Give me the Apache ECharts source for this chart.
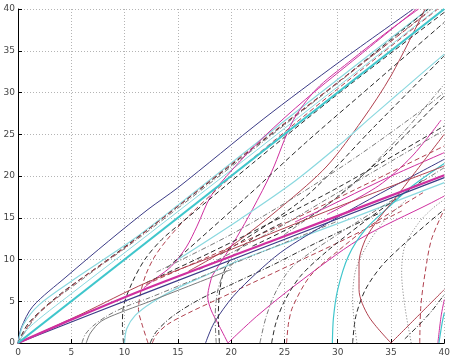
<!DOCTYPE html>
<html>
<head>
<meta charset="utf-8">
<script src="https://cdn.jsdelivr.net/npm/echarts@6/dist/echarts.min.js"></script>
<style>
html,body{margin:0;padding:0;background:#fff;}
#chart{width:453px;height:358px;}
</style>
</head>
<body>
<div id="chart"></div>
<script>
// Axis ticks
const xTicks = [0, 5, 10, 15, 20, 25, 30, 35, 40];
const yTicks = [0, 5, 10, 15, 20, 25, 30, 35, 40];

// Straight reference branches
const cyanMain = [[0,0],[40,40]];
const magentaMain = [[0,0],[5,2.8],[12,6.5],[24,12.3],[40,20.1]];
const navyHalf = [[0,0],[12,6],[40,19.8]];
const redHalf = [[0,0],[6,3.5],[12,7.2],[20,11.2],[30,16.3],[40,21.2]];

// Branches leaving the origin above the diagonal
const upNavy = [[0,0],[0.3,1.8],[1.4,4.4],[4.5,7.9],[8.5,12.2],[12.2,16],[15,18.6],[23,26.8],[30.2,33.7],[37.1,40]];
const upCyan = [[0,0],[0.5,2.2],[2,4.6],[5,7.4],[10.7,12.3],[15,16.5],[25.2,26.8],[38.5,40]];
const upDash = [[0,0],[1,2.4],[4,5.9],[8,9.6],[12.2,13.6],[20,21.3],[30,31.2],[38.5,40]];
const upDashDot = [[0,0],[2,3.6],[6,7.6],[12,13.2],[25,26.1],[38.8,40]];
const upRedDash = [[0,0],[1.5,3],[5,6.8],[10,11.4],[20,21.4],[30,31.2],[38.5,39.6]];
const upCyan2 = [[0,0],[1,1.8],[5,5.9],[10,10.8],[20,20.7],[30,30.7],[39.3,40]];

// Branches rising toward the diagonal
const magRise = [[11.8,6.6],[13,7.8],[14.4,9.2],[15.8,11.5],[16.8,14],[18.1,17.6],[20,20.6],[23,24.6],[27,29.2],[32,34.4],[37.4,40]];
const redDashRise = [[12.2,0],[11.6,2.4],[11.3,4],[11.5,6],[12,8.2],[12.8,10.3],[14,12.4],[16,15.2],[20,19.9],[26,26.3],[33,33.5],[39.4,40]];
const blackDashRise = [[9.9,0],[9.8,2.2],[9.9,4.4],[10.7,7.2],[11.9,10],[13.5,12.4],[16,15.1],[22,21.5],[30,29.8],[40,39.6]];
const redRise = [[16,8.6],[20,11.6],[25,16.6],[29,21.2],[32.3,26.7],[35,32],[38.2,40]];
const magRise2 = [[18.2,8],[19.3,10.2],[20.5,12.6],[22,16],[23.8,20.5],[25.8,26.6],[28,30.4],[31,33.6],[35,37.6],[37.6,40]];
const dashRise1 = [[14,9],[21.2,17.2],[27,24],[33.5,31.2],[40,38.4]];
const dashRise2 = [[19,10.6],[26.7,17.2],[33.5,26],[40,34.4]];
const dashRise3 = [[22,11.6],[28,15.6],[34,22],[40,29.6]];
const greyRise = [[25,13],[31,18.5],[36,25],[40,31]];
const cyanRise = [[15,10],[20.8,14.8],[26,19.4],[30.7,24.3],[33,26.9],[36,30.2],[40,34.6]];

// Branches in the band between the two reference lines
const bandDash1 = [[12,7.2],[18,10.8],[24,14.6],[30,18.6],[36,23],[40,26]];
const bandDash2 = [[13,8.5],[20,13],[26,17.5],[32,22.5],[38,28],[40,30]];
const bandRed = [[12,7],[18,10.4],[25,14.3],[32,18.6],[40,23.6]];
const bandMag = [[26,14.5],[29.2,16.4],[34,19.4],[40,22.8]];
const bandMag2 = [[29,15.4],[33.8,18.8],[37,22.4],[39.7,26.7]];
const bandGrey = [[17,8.8],[24,13.5],[30,18],[36,22.5],[40,25.5]];

// Branches starting on the horizontal axis
const cyan10 = [[10,0],[10.2,1.7],[11,3.3],[12.5,4.8],[15,6.6],[17.8,8.2],[20.6,9.8],[24.3,11.6],[30,14.3],[40,19.2]];
const grey6 = [[6,0],[6.3,1],[7,2],[8.3,3.2],[10,4.3],[12.3,5.4],[15,6.8],[20,9.4],[25,12],[30,14.6]];
const grey64 = [[6.4,0],[6.8,1.2],[7.8,2.6],[9.5,3.6],[12,4.8],[16,6.8],[20,8.8]];
const red126 = [[12.6,0],[13,1],[14,2.2],[16,3.6],[19,5.4],[22,7.2],[26,9.6],[30,12],[36,15.8]];
const dash124 = [[12.4,0],[13,1.4],[14.5,3.2],[17,5.2],[20,7],[24,9.4],[28,12],[34,15.6]];
const navy176 = [[17.6,0],[18.4,2.4],[20.2,5.6],[22.4,8.4],[24.6,10.8],[27,12.8],[31,15.8],[35,18.6],[40,22]];
const magV20Left = [[19.7,0],[18.9,2],[18.1,4],[17.8,5.6],[18.2,8]];
const magV20Right = [[19.7,0],[22.4,3.2],[26.1,7],[32,12.4],[38.8,16.8],[40,17.6]];
const dash189 = [[18.9,0],[18.8,3],[18.9,6],[19.3,8.5],[20.2,10.5],[22,12.5],[25,14.5]];
const dash186 = [[18.6,0],[18.5,3],[18.7,6],[19.2,8],[20.5,10]];
const grey227 = [[22.7,0],[23.3,3.2],[24.3,6.4],[25.8,9.2],[30,13],[35,17],[40,21]];
const dash238 = [[23.8,0],[24.2,2.4],[25,5],[26.5,8],[29,11],[33,15],[38,19.5]];
const red252 = [[25.2,0],[25.4,2.5],[25.8,4.4],[27.4,8],[30,11],[33,14],[38,18]];
const cyan295 = [[29.5,0],[29.6,3],[30,6.4],[31,10.4],[32.6,13.6],[34.8,16.3],[37,18.8],[40,21.5]];
const dash314 = [[31.4,0],[31.7,3.2],[32.6,6.4],[34.1,9.2],[36,11.6],[38.5,14.4],[40,16]];
const grey318 = [[31.8,0],[31.4,5.2],[31.7,8.8],[32.9,12],[34.5,14.8],[36.5,17.2]];
const redV35Left = [[35,0],[32.9,3.2],[32,6.4],[32,9.6],[32.6,12.4],[33.8,14.8],[35.5,17.5],[37,20],[40,25]];
const redV35Right = [[35,0],[37.5,3.2],[40,6.4]];
const grey369 = [[36.9,0],[36.3,4.4],[36,8.4],[36.3,11.6],[37.6,14.4],[38.8,16],[40,17.2]];
const red377 = [[37.7,0],[37.8,4.4],[38.2,8.4],[38.8,12.4],[40,16]];
const mag394 = [[39.4,0],[39.7,3.2],[40,5.2]];
const cyan394 = [[39.5,0],[39.8,2.4],[40,3.6]];
const dash363 = [[36.3,0.5],[37.5,2],[38.8,3.8],[40,5.8]];

const C = {
  navy: '#3b3b86', cyan: '#3fc6cc', lcyan: '#8ad8df', mag: '#cf2f9f',
  red: '#b0404e', black: '#2a2a2a', grey: '#7a7a7a'
};
const DASH = [5, 3], DASHDOT = [5, 2, 1, 2], DOT = [1, 2];

const curves = [
  // [data, color, width, dash]
  [upNavy, C.navy, 1, null], [upCyan, C.lcyan, 1.2, null], [upDash, C.black, 1, DASH],
  [upDashDot, C.grey, 1, DASHDOT], [upRedDash, C.red, 1, DASH], [upCyan2, C.lcyan, 1, null],
  [magRise, C.mag, 1, null], [redDashRise, C.red, 1, DASH], [blackDashRise, C.black, 1, DASH],
  [redRise, C.red, 1, null], [magRise2, C.mag, 1, null], [dashRise1, C.black, 1, DASH],
  [dashRise2, C.black, 1, DASH], [dashRise3, C.black, 1, DASH], [greyRise, C.grey, 1, DASHDOT],
  [cyanRise, C.lcyan, 1.2, null],
  [bandDash1, C.black, 1, DASH], [bandDash2, C.grey, 1, DASHDOT], [bandRed, C.red, 1, DASH],
  [bandMag, C.mag, 1, null], [bandMag2, C.mag, 1, null], [bandGrey, C.grey, 1, DASHDOT],
  [cyan10, C.lcyan, 1.2, null], [grey6, C.grey, 1, DASHDOT], [grey64, C.grey, 1, null],
  [red126, C.red, 1, DASH], [dash124, C.black, 1, DASHDOT], [navy176, C.navy, 1, null],
  [magV20Left, C.mag, 1, null], [magV20Right, C.mag, 1, null], [dash189, C.black, 1, DASH],
  [dash186, C.grey, 1, DASHDOT], [grey227, C.grey, 1, DASHDOT], [dash238, C.black, 1, DASH],
  [red252, C.red, 1, DASH], [cyan295, C.cyan, 1.2, null], [dash314, C.black, 1, DASH],
  [grey318, C.grey, 1, DOT], [redV35Left, C.red, 1, null], [redV35Right, C.red, 1, null],
  [grey369, C.grey, 1, DOT], [red377, C.red, 1, DASH], [mag394, C.mag, 1, null],
  [cyan394, C.cyan, 1.2, null], [dash363, C.black, 1, DASHDOT],
  [navyHalf, C.navy, 1.2, null], [redHalf, C.red, 1, null],
  [magentaMain, C.mag, 2.2, null], [cyanMain, C.cyan, 2.2, null]
];

const series = curves.map(([data, color, width, dash]) => ({
  type: 'line', data: data, smooth: 0.3, symbol: 'none', silent: true,
  lineStyle: { color: color, width: width, type: dash || 'solid' },
  clip: true, animation: false
}));

const axisCommon = {
  type: 'value', min: 0, max: 40, interval: 5,
  axisLine: { show: true, lineStyle: { color: '#000', width: 1 } },
  axisTick: { show: true, inside: true, length: 4, lineStyle: { color: '#000' } },
  axisLabel: { color: '#444', fontSize: 9, fontFamily: 'DejaVu Sans', margin: 5 },
  splitLine: { show: true, lineStyle: { color: '#b4b4b4', type: [1, 2], width: 1 } }
};

const chart = echarts.init(document.getElementById('chart'), null, { renderer: 'canvas' });
chart.setOption({
  animation: false,
  backgroundColor: '#fff',
  grid: { left: 18, right: 3, top: 9, bottom: 15, containLabel: false },
  xAxis: Object.assign({}, axisCommon, {
    axisLabel: Object.assign({}, axisCommon.axisLabel, {
      formatter: v => xTicks.includes(v) ? String(v) : ''
    })
  }),
  yAxis: Object.assign({}, axisCommon, {
    axisLabel: Object.assign({}, axisCommon.axisLabel, {
      margin: 3,
      formatter: v => yTicks.includes(v) ? String(v) : ''
    })
  }),
  series: series
});
</script>
</body>
</html>
